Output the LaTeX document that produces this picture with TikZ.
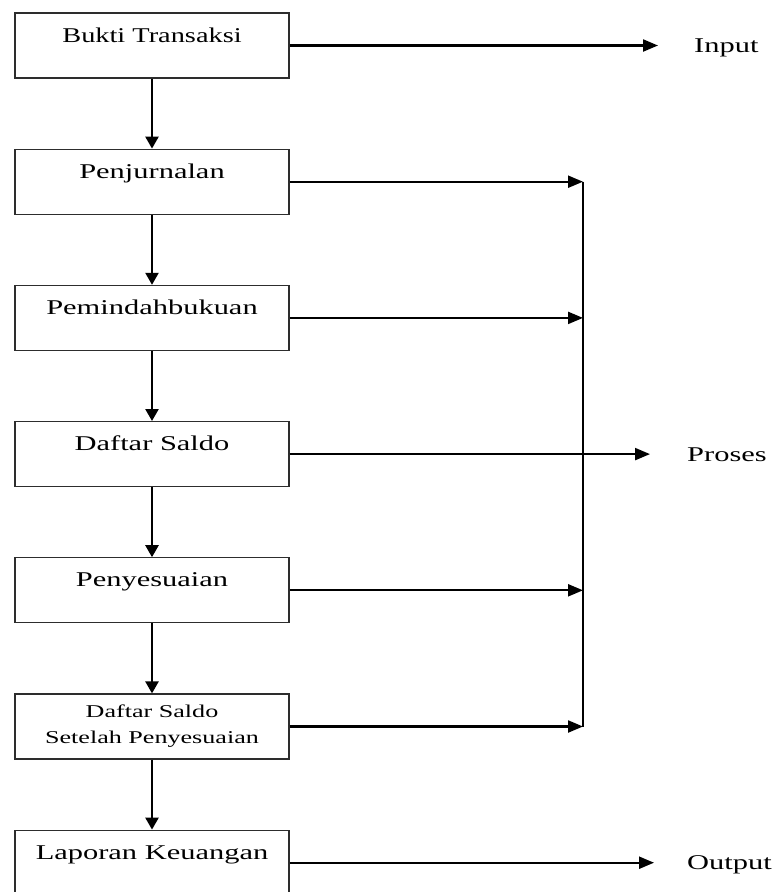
\documentclass[tikz,border=0pt]{standalone}
\usepackage{fontspec}
\setmainfont{Liberation Serif}[FakeStretch=1.45]
\newfontfamily\narrowfont{Liberation Serif}[FakeStretch=1.35]
\usetikzlibrary{arrows.meta,positioning}
\definecolor{inkgray}{RGB}{45, 45, 45}

\tikzset{
    stepbox/.style={draw=inkgray, line width=1.2pt, minimum width=274pt, minimum height=65pt,
                    inner ysep=0pt, text height=29pt, text depth=36pt, font=\fontsize{21}{25}\selectfont},
    twobox/.style={draw=inkgray, line width=1.2pt, minimum width=274pt, minimum height=65pt,
                   align=center, font=\fontsize{18}{26}\selectfont},
    phase/.style={anchor=west, inner sep=0pt, text height=14pt, text depth=0pt, font=\fontsize{21}{25}\selectfont},
    flow/.style={line width=2.2pt, -{Triangle[length=15pt, width=12pt]}},
    down/.style={line width=2.4pt, -{Triangle[length=12pt, width=13pt]}},
}

\begin{document}
\begin{tikzpicture}[x=1pt, y=-1pt]
            % Frame to keep the page size:
            \useasboundingbox                                 (  0,   0) rectangle (774, 892);
            \coordinate (bus)                              at (583,   0);
            \coordinate (lab)                              at (687,   0);

            \node[stepbox, font=\narrowfont\fontsize{21}{25}\selectfont]
                                                 (bukti)   at (152, 45.5) {Bukti Transaksi};
            \node[stepbox, below=70pt of bukti]  (jurnal)  {Penjurnalan};
            \node[stepbox, below=70pt of jurnal] (pindah)  {Pemindahbukuan};
            \node[stepbox, below=70pt of pindah] (saldo)   {Daftar Saldo};
            \node[stepbox, below=70pt of saldo]  (sesuai)  {Penyesuaian};
            \node[twobox,  below=70pt of sesuai] (setelah) {Daftar Saldo\\Setelah Penyesuaian};
            \node[stepbox, below=70pt of setelah](laporan) {Laporan Keuangan};

            \node[phase, xshift=7pt]             (input)   at (bukti -| lab)   {Input};
            \node[phase]                         (proses)  at (saldo -| lab)   {Proses};
            \node[phase]                         (output)  at (laporan -| lab) {Output};

            % Down the chain:
            \draw[down] (bukti)   -- (jurnal);
            \draw[down] (jurnal)  -- (pindah);
            \draw[down] (pindah)  -- (saldo);
            \draw[down] (saldo)   -- (sesuai);
            \draw[down] (sesuai)  -- (setelah);
            \draw[down] (setelah) -- (laporan);

            % Out to the right:
            \draw[flow, shorten >=36pt] (bukti)   -- (input);
            \draw[flow, shorten >=37pt] (saldo)   -- (proses);
            \draw[flow, shorten >=33pt] (laporan) -- (output);
            \draw[flow] (jurnal)  -- (jurnal -| bus);
            \draw[flow] (pindah)  -- (pindah -| bus);
            \draw[flow] (sesuai)  -- (sesuai -| bus);
            \draw[flow] (setelah) -- (setelah -| bus);
            \draw[line width=1.3pt] (jurnal -| bus) -- (setelah -| bus);
        \end{tikzpicture}
\end{document}
